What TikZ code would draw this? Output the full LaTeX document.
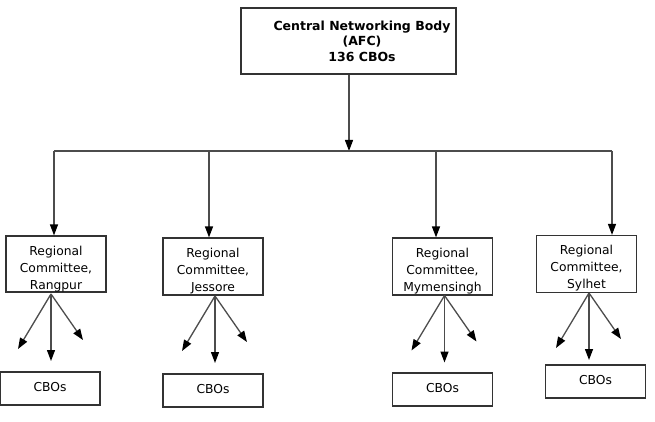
\documentclass[tikz,border=0pt]{standalone}
\usepackage{fontspec}
\setmainfont{DejaVu Sans}
\usetikzlibrary{arrows.meta}

\begin{document}
\begin{tikzpicture}[x=1pt,y=-1pt,
    box/.style={draw=black!80, line width=1.2pt, inner sep=0pt},
    conn/.style={draw=black!70, line width=1.3pt},
    arr/.style={conn, -{Triangle[length=11pt,width=8pt,black]}},
    toplbl/.style={align=center, inner sep=0pt, font=\bfseries\fontsize{12.5}{15.5}\selectfont},
    reglbl/.style={align=center, inner sep=0pt, font=\fontsize{12.3}{16.8}\selectfont},
    cbobox/.style={box, minimum width=100pt, minimum height=33pt, text depth=4pt, font=\fontsize{12.3}{14}\selectfont}]
    %%%%% START %%%%%

    \useasboundingbox (0,0) rectangle (655,422);

    % central body
    \node[box, minimum width=215pt, minimum height=66pt] (central) at (348.5,41) {};
    \node[toplbl] (centrallbl) at (362,41) {Central Networking Body\\(AFC)\\136 CBOs};

    % regional committees (third line is cut off by the box)
    \foreach \n/\cx/\cy/\h/\t in {rangpur/56/264/56/Rangpur, jessore/213/266.5/57/Jessore,
        mymensingh/442.5/266.5/57/Mymensingh, sylhet/586.5/264/57/Sylhet}{
        \node[box, minimum width=100pt, minimum height=\h pt] (\n) at (\cx,\cy) {};
        \begin{scope}
            \clip (\n.south west) rectangle (\n.north east);
            \node[reglbl, anchor=north] (\n-lbl) at ([yshift=-10.5pt]\n.north) {Regional\\Committee,\\\t};
        \end{scope}
    }

    % CBO boxes
    \node[cbobox] (cbo1) at (50,388.5) {CBOs};
    \node[cbobox] (cbo2) at (213,390.5) {CBOs};
    \node[cbobox] (cbo3) at (442.5,389.5) {CBOs};
    \node[cbobox] (cbo4) at (595.5,381.5) {CBOs};

    % distribution bus
    \coordinate (bus) at (349,151);
    \coordinate (b1) at (54,151);
    \coordinate (b2) at (209,151);
    \coordinate (b3) at (436,151);
    \coordinate (b4) at (612,151);

    \draw[arr] (central.south -| bus) -- (bus);
    \draw[conn] (b1) -- (b4);
    \draw[arr] (b1) -- (b1 |- rangpur.north);
    \draw[arr] (b2) -- (b2 |- jessore.north);
    \draw[arr] (b3) -- (b3 |- mymensingh.north);
    \draw[arr] (b4) -- (b4 |- sylhet.north);

    % fans below each committee
    \coordinate (ro) at (51,294);
    \coordinate (jo) at (215,296);
    \coordinate (mo) at (444.5,295.5);
    \coordinate (so) at (589,293);
    \foreach \o in {ro,jo,mo,so}{
        \path (\o) ++(-33,55) coordinate (\o-l);
        \path (\o) ++(0,67) coordinate (\o-m);
        \path (\o) ++(32,46) coordinate (\o-r);
        \draw[arr] (\o) -- (\o-l);
        \draw[arr] (\o) -- (\o-m);
        \draw[arr] (\o) -- (\o-r);
    }

    %%%%% END %%%%%
\end{tikzpicture}
\end{document}
